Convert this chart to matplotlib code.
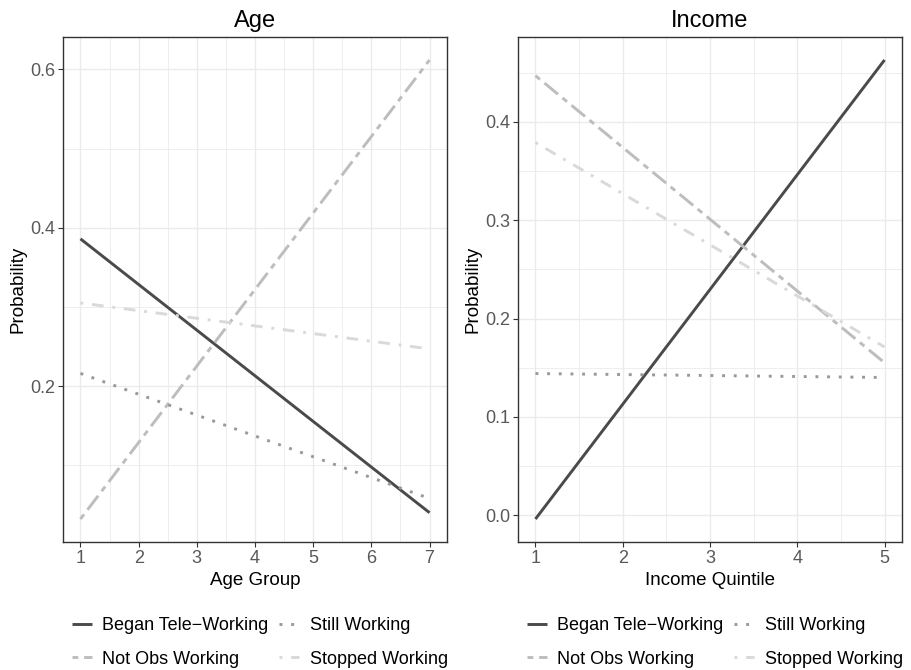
import matplotlib
matplotlib.use("Agg")
import matplotlib.pyplot as plt
from matplotlib.lines import Line2D

plt.rcParams['font.family'] = ['Liberation Sans', 'DejaVu Sans']

# Predicted probabilities at the ends of each covariate range
series = ["Began Tele\u2212Working", "Not Obs Working", "Still Working", "Stopped Working"]

age_x = [1, 7]
age_began = [0.386, 0.040]
age_notobs = [0.032, 0.612]
age_still = [0.216, 0.058]
age_stopped = [0.305, 0.247]

inc_x = [1, 5]
inc_began = [-0.004, 0.463]
inc_notobs = [0.447, 0.155]
inc_still = [0.144, 0.140]
inc_stopped = [0.379, 0.171]

age_ticks = [1, 2, 3, 4, 5, 6, 7]
age_yticks = [0.2, 0.4, 0.6]
inc_ticks = [1, 2, 3, 4, 5]
inc_yticks = [0.0, 0.1, 0.2, 0.3, 0.4]

colors = {"Began Tele\u2212Working": "#4a4a4a", "Not Obs Working": "#bdbdbd",
          "Still Working": "#999999", "Stopped Working": "#d9d9d9"}
dashes = {"Began Tele\u2212Working": None, "Not Obs Working": (2, 2, 6, 2),
          "Still Working": (1, 3), "Stopped Working": (1, 3, 4, 3)}
LW = 2.1

fig = plt.figure(figsize=(9.12, 6.70), dpi=100)
axL = fig.add_axes([63/912, 1-542/670, 384/912, 505/670])
axR = fig.add_axes([518/912, 1-542/670, 384/912, 505/670])


def draw(ax, x, data, title, xlabel, xticks, yticks):
    for name, y in zip(series, data):
        ln, = ax.plot(x, y, color=colors[name], lw=LW, solid_capstyle='butt',
                      dash_capstyle='butt')
        if dashes[name] is not None:
            ln.set_dashes(dashes[name])
    ax.set_xticks(xticks)
    ax.set_yticks(yticks)
    ax.set_yticklabels([f"{v:.1f}" for v in yticks])
    minor_x = [t + 0.5 for t in xticks[:-1]]
    ax.set_xticks(minor_x, minor=True)
    ys = list(yticks)
    step = ys[1] - ys[0]
    minor_y = [ys[0] - step/2] + [t + step/2 for t in ys]
    ax.set_yticks(minor_y, minor=True)
    # data range with a 5% margin on each side
    allv = [v for d in data for v in d]
    lo, hi = min(allv), max(allv)
    pad = (hi - lo) * 0.05
    ax.set_ylim(lo - pad, hi + pad)
    xpad = (max(x) - min(x)) * 0.05
    ax.set_xlim(min(x) - xpad, max(x) + xpad)
    ax.grid(which='major', color='#ebebeb', lw=1.0)
    ax.grid(which='minor', color='#ebebeb', lw=0.6)
    ax.set_axisbelow(True)
    ax.tick_params(which='minor', length=0)
    ax.tick_params(which='major', length=3.5, width=0.8, color='#333333',
                   labelsize=13, labelcolor='#595959', pad=2)
    for s in ax.spines.values():
        s.set_color('#333333')
        s.set_linewidth(1.0)
    ax.set_title(title, fontsize=17, pad=7)
    ax.set_xlabel(xlabel, fontsize=13.5, labelpad=4)
    ax.set_ylabel("Probability", fontsize=13.5, labelpad=3)
    handles = []
    for n in series:
        h = Line2D([], [], color=colors[n], lw=LW, solid_capstyle='butt',
                   dash_capstyle='butt')
        if dashes[n] is not None:
            h.set_dashes(dashes[n])
        handles.append(h)
    ax.legend(handles, series, ncol=2, loc='upper center',
              bbox_to_anchor=(0.513, -0.117), frameon=False, fontsize=13,
              handlelength=1.1, handletextpad=0.6, columnspacing=0.6,
              labelspacing=0.9)


draw(axL, age_x, [age_began, age_notobs, age_still, age_stopped], "Age", "Age Group",
     age_ticks, age_yticks)
draw(axR, inc_x, [inc_began, inc_notobs, inc_still, inc_stopped], "Income", "Income Quintile",
     inc_ticks, inc_yticks)

fig.savefig("out.png", dpi=100)
